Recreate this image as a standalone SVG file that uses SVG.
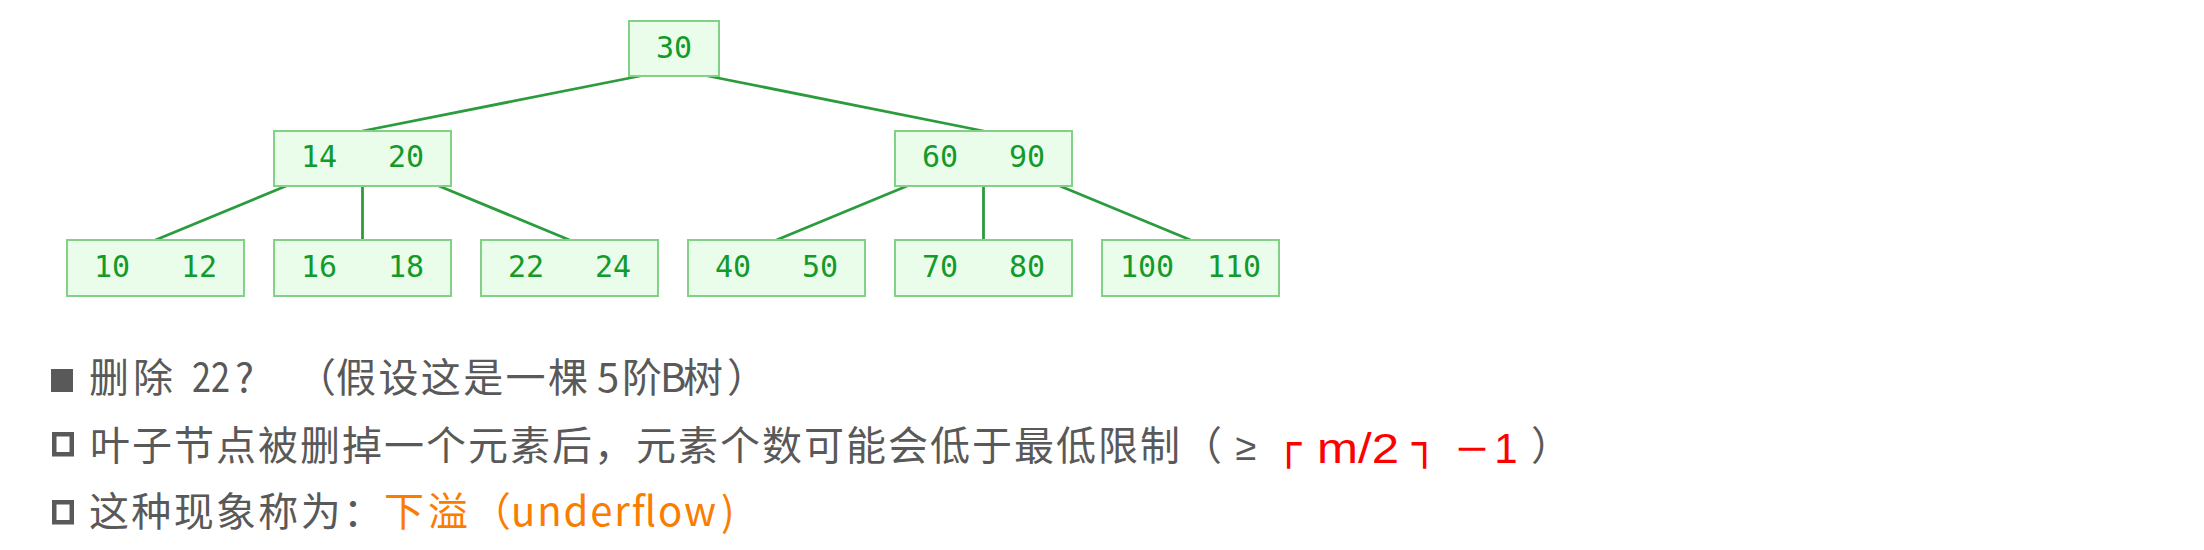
<svg xmlns="http://www.w3.org/2000/svg" width="2204" height="550" viewBox="0 0 2204 550">
<style>
.box{fill:#eafcea;stroke:#82d186;stroke-width:2}
.nt{font-family:"DejaVu Sans Mono",monospace;font-size:30px;fill:#129a2a;text-anchor:middle}
.edge{stroke:#2b9c3d;stroke-width:2.8;fill:none;stroke-linecap:round}
.t{font-family:"Noto Sans CJK SC","Noto Sans",sans-serif;font-size:40px;fill:#595959}
.red{fill:#ff0000}
.org{fill:#fa7d00}
.lat{font-family:"Liberation Sans",Arial,sans-serif;font-size:42px}
.bx{font-family:"DejaVu Sans Mono",monospace;font-size:42px;fill:#ff0000}
.mid{text-anchor:middle}
.hb{fill:none;stroke:#595959;stroke-width:4.5}
</style>
<rect width="2204" height="550" fill="#ffffff"/>
<g id="connectors">
<line class="edge" x1="640" y1="76" x2="362.5" y2="131"/>
<line class="edge" x1="708" y1="76" x2="983.5" y2="131"/>
<line class="edge" x1="286" y1="186" x2="155.5" y2="240"/>
<line class="edge" x1="362.5" y1="186" x2="362.5" y2="240"/>
<line class="edge" x1="439" y1="186" x2="569.5" y2="240"/>
<line class="edge" x1="907" y1="186" x2="776.5" y2="240"/>
<line class="edge" x1="983.5" y1="186" x2="983.5" y2="240"/>
<line class="edge" x1="1060" y1="186" x2="1190.5" y2="240"/>
</g>
<g id="n30"><rect class="box" x="629" y="21" width="90" height="55"/><text class="nt" x="674" y="58">30</text></g>
<g id="n14_20"><rect class="box" x="274" y="131" width="177" height="55"/><text class="nt" x="319" y="167">14</text><text class="nt" x="406" y="167">20</text></g>
<g id="n60_90"><rect class="box" x="895" y="131" width="177" height="55"/><text class="nt" x="940" y="167">60</text><text class="nt" x="1027" y="167">90</text></g>
<g id="n10_12"><rect class="box" x="67" y="240" width="177" height="56"/><text class="nt" x="112" y="277">10</text><text class="nt" x="199" y="277">12</text></g>
<g id="n16_18"><rect class="box" x="274" y="240" width="177" height="56"/><text class="nt" x="319" y="277">16</text><text class="nt" x="406" y="277">18</text></g>
<g id="n22_24"><rect class="box" x="481" y="240" width="177" height="56"/><text class="nt" x="526" y="277">22</text><text class="nt" x="613" y="277">24</text></g>
<g id="n40_50"><rect class="box" x="688" y="240" width="177" height="56"/><text class="nt" x="733" y="277">40</text><text class="nt" x="820" y="277">50</text></g>
<g id="n70_80"><rect class="box" x="895" y="240" width="177" height="56"/><text class="nt" x="940" y="277">70</text><text class="nt" x="1027" y="277">80</text></g>
<g id="n100_110"><rect class="box" x="1102" y="240" width="177" height="56"/><text class="nt" x="1147" y="277">100</text><text class="nt" x="1234" y="277">110</text></g>
<g id="line1">
<rect x="51" y="369" width="22" height="23" fill="#595959"/>
<text class="t" y="392"><tspan x="89" textLength="84">删除</tspan></text>
<text class="t" y="392" x="192" textLength="38" lengthAdjust="spacingAndGlyphs">22</text>
<text class="t" y="392" x="235">?</text>
<text class="t" y="392" text-anchor="end" x="336">（</text>
<text class="t" y="392"><tspan x="336" textLength="252">假设这是一棵</tspan><tspan x="597">5</tspan><tspan x="622">阶</tspan><tspan x="660">B</tspan><tspan x="683">树</tspan><tspan x="727">）</tspan></text>
</g>
<g id="line2">
<rect class="hb" x="54.25" y="434.25" width="17.5" height="20"/>
<text class="t" y="460"><tspan x="90" textLength="1090">叶子节点被删掉一个元素后，元素个数可能会低于最低限制</tspan><tspan x="1182">（</tspan></text>
<text class="t lat mid" x="1246" y="460" style="fill:#595959;font-size:38px">≥</text>
<text class="bx" x="1276" y="458">┌</text>
<text class="t red lat" x="1317" y="463" textLength="82" lengthAdjust="spacingAndGlyphs">m/2</text>
<text class="bx" x="1412" y="458">┐</text>
<text class="t red lat" x="1456" y="463" textLength="32" lengthAdjust="spacingAndGlyphs">−</text>
<text class="t red lat mid" x="1506" y="463">1</text>
<text class="t" x="1531" y="460">）</text>
</g>
<g id="line3">
<rect class="hb" x="54.25" y="502.25" width="17.5" height="20"/>
<text class="t" y="526"><tspan x="89" textLength="294">这种现象称为：</tspan></text>
<text class="t org" y="526"><tspan x="384" textLength="84">下溢</tspan></text>
<text class="t org" y="526" x="511" text-anchor="end">（</text>
<text class="t org" y="526"><tspan x="511" textLength="205">underflow</tspan><tspan x="721">)</tspan></text>
</g>
</svg>
